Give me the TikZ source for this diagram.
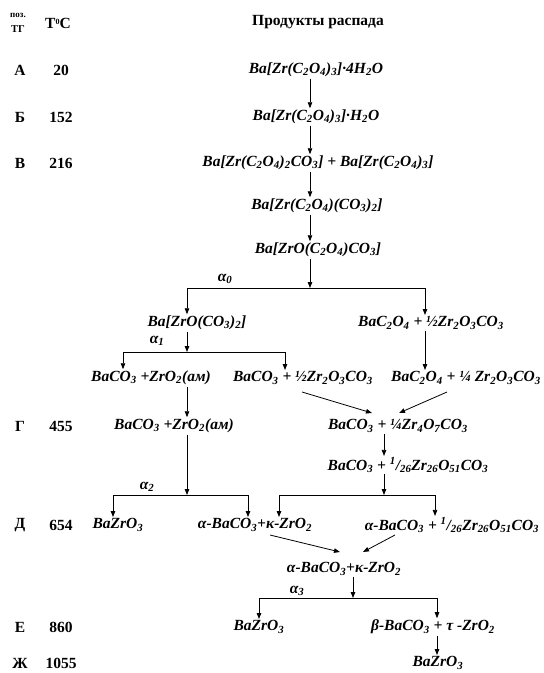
\documentclass[tikz,border=0pt]{standalone}
\usepackage{fontspec}
\setmainfont{Liberation Serif}
\usetikzlibrary{arrows.meta}
\newcommand{\chs}[1]{\textsubscript{#1}}
\newcommand{\chfont}{\fontsize{15.5}{18}\selectfont\bfseries\itshape}

\begin{document}
\begin{tikzpicture}[x=1pt,y=-1pt,font=\fontsize{15.5}{18}\selectfont\bfseries,
  chem/.style={font=\chfont,inner sep=1.5pt},
  arr/.style={-{Triangle[length=6pt,width=4.5pt]},line width=0.8pt},
  bar/.style={line width=0.8pt}]
\useasboundingbox (0,0) rectangle (544,673);
% header
\node (pz) at (18,15) {\fontsize{9}{10}\selectfont поз.};
\node (tg) at (18,29) {\fontsize{10.5}{11}\selectfont ТГ};
\node (tc) at (58,23) {T{\fontsize{8}{9}\selectfont\raisebox{4pt}{0}}C};
\node (hd) at (318,22) {Продукты распада};
% stage letters and temperatures
\node (lA) at (20,70) {А};   \node (tA) at (61,70) {20};
\node (lB) at (20,117) {Б};  \node (tB) at (61,117) {152};
\node (lC) at (20,163) {В};  \node (tC) at (61,163) {216};
\node (lG) at (20,426) {Г};  \node (tG) at (61,426) {455};
\node (lD) at (20,525) {Д};  \node (tD) at (61,525) {654};
\node (lE) at (20,627) {Е};  \node (tE) at (61,627) {860};
\node (lZ) at (20,663) {Ж};  \node (tZ) at (61,663) {1055};
% decomposition products
\node[chem] (fA) at (316,70) {Ba[Zr(C\chs2O\chs4)\chs3]·4H\chs2O};
\node[chem] (fB) at (316,117) {Ba[Zr(C\chs2O\chs4)\chs3]·H\chs2O};
\node[chem] (fC) at (318,163) {Ba[Zr(C\chs2O\chs4)\chs2CO\chs3] + Ba[Zr(C\chs2O\chs4)\chs3]};
\node[chem] (fD) at (317,206) {Ba[Zr(C\chs2O\chs4)(CO\chs3)\chs2]};
\node[chem] (fE) at (318,250) {Ba[ZrO(C\chs2O\chs4)CO\chs3]};
\node[chem] (fF) at (197,323) {Ba[ZrO(CO\chs3)\chs2]};
\node[chem] (fG) at (431,323) {BaC\chs2O\chs4 + ½Zr\chs2O\chs3CO\chs3};
\node[chem] (fH) at (151,378) {BaCO\chs3 +ZrO\chs2(ам)};
\node[chem] (fI) at (303,378) {BaCO\chs3 + ½Zr\chs2O\chs3CO\chs3};
\node[chem] (fJ) at (466,378) {BaC\chs2O\chs4 + ¼ Zr\chs2O\chs3CO\chs3};
\node[chem] (fK) at (174,426) {BaCO\chs3 +ZrO\chs2(ам)};
\node[chem] (fL) at (398,426) {BaCO\chs3 + ¼Zr\chs4O\chs7CO\chs3};
\node[chem] (fM) at (408,465) {BaCO\chs3 + \textsuperscript{1}/\chs{26}Zr\chs{26}O\chs{51}CO\chs3};
\node[chem] (fN) at (118,525) {BaZrO\chs3};
\node[chem] (fO) at (255,525) {α-BaCO\chs3+κ-ZrO\chs2};
\node[chem] (fP) at (452,525) {α-BaCO\chs3 + \textsuperscript{1}/\chs{26}Zr\chs{26}O\chs{51}CO\chs3};
\node[chem] (fQ) at (344,569) {α-BaCO\chs3+κ-ZrO\chs2};
\node[chem] (fR) at (259,627) {BaZrO\chs3};
\node[chem] (fS) at (433,627) {β-BaCO\chs3 + τ -ZrO\chs2};
\node[chem] (fT) at (438,663) {BaZrO\chs3};
% branch labels
\node[chem] (a0) at (225,279) {α\chs0};
\node[chem] (a1) at (157,341) {α\chs1};
\node[chem] (a2) at (147,487) {α\chs2};
\node[chem] (a3) at (297,591) {α\chs3};
% junctions
\coordinate (c0) at (310,0);
\coordinate (c1) at (384,0);
\coordinate (j0) at (310,288); \coordinate (j0l) at (187,288); \coordinate (j0r) at (425,288);
\coordinate (j1) at (187,352); \coordinate (j1l) at (123,352); \coordinate (j1r) at (285,352);
\coordinate (j2) at (187,495); \coordinate (j2l) at (113,495); \coordinate (j2r) at (248,495);
\coordinate (j3) at (384,495); \coordinate (j3l) at (279,495); \coordinate (j3r) at (435,495);
\coordinate (j4) at (353,598); \coordinate (j4l) at (259,598); \coordinate (j4r) at (437,598);
\coordinate (d1s) at (302,392); \coordinate (d1e) at (372,413);
\coordinate (d2s) at (447,392); \coordinate (d2e) at (399,413);
\coordinate (d3s) at (270,535); \coordinate (d3e) at (340,552);
\coordinate (d4s) at (395,535); \coordinate (d4e) at (363,552);
% main chain
\draw[arr] (fA.south -| c0) -- (fB.north -| c0);
\draw[arr] (fB.south -| c0) -- (fC.north -| c0);
\draw[arr] (fC.south -| c0) -- (fD.north -| c0);
\draw[arr] (fD.south -| c0) -- (fE.north -| c0);
\draw[arr] (fE.south -| c0) -- (j0);
\draw[bar] (j0l) -- (j0r);
\draw[arr] (j0l) -- (j0l |- fF.north);
\draw[arr] (j0r) -- (j0r |- fG.north);
\draw[arr] (fF.south -| j1) -- (j1);
\draw[bar] (j1l) -- (j1r);
\draw[arr] (j1l) -- (j1l |- fH.north);
\draw[arr] (j1r) -- (j1r |- fI.north);
\draw[arr] (fG.south -| j0r) -- (fJ.north -| j0r);
\draw[arr] (fH.south -| j1) -- (fK.north -| j1);
\draw[arr] (d1s) -- (d1e);
\draw[arr] (d2s) -- (d2e);
\draw[arr] (fL.south -| c1) -- (fM.north -| c1);
\draw[arr] (fK.south -| j2) -- (j2);
\draw[bar] (j2l) -- (j2r);
\draw[arr] (j2l) -- (j2l |- fN.north);
\draw[arr] (j2r) -- (j2r |- fO.north);
\draw[arr] (fM.south -| j3) -- (j3);
\draw[bar] (j3l) -- (j3r);
\draw[arr] (j3l) -- (j3l |- fO.north);
\draw[arr] (j3r) -- (j3r |- fP.north);
\draw[arr] (d3s) -- (d3e);
\draw[arr] (d4s) -- (d4e);
\draw[arr] (fQ.south -| j4) -- (j4);
\draw[bar] (j4l) -- (j4r);
\draw[arr] (j4l) -- (j4l |- fR.north);
\draw[arr] (j4r) -- (j4r |- fS.north);
\draw[arr] (fS.south -| j4r) -- (fT.north -| j4r);
\end{tikzpicture}
\end{document}
